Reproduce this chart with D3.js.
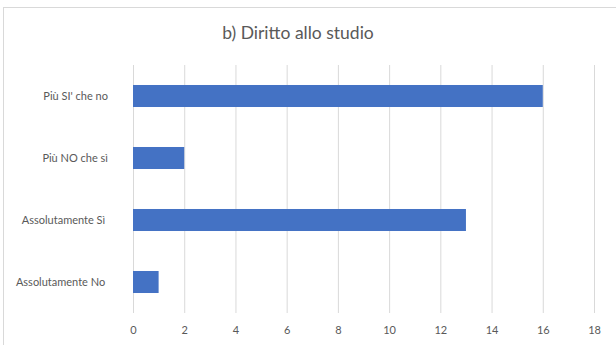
<!DOCTYPE html>
<html><head><meta charset="utf-8">
<script src="https://cdn.jsdelivr.net/npm/d3@7"></script>
<style>body{margin:0;background:#fff}svg{display:block}</style>
</head><body>
<script>
const title = "b) Diritto allo studio";
const categories = ["Più SI' che no","Più NO che sì","Assolutamente Sì ","Assolutamente No "];
const values = [16, 2, 13, 1];
const ticks = [0,2,4,6,8,10,12,14,16,18];

const W=616,H=345;
const svg=d3.select("body").append("svg").attr("width",W).attr("height",H);
svg.append("rect").attr("x",3.5).attr("y",7.5).attr("width",W+10).attr("height",H+10)
  .attr("fill","#fff").attr("stroke","#d9d9d9");
const font="Lato, 'Open Sans', sans-serif";
const x=d3.scaleLinear().domain([0,18]).range([133,594]);
const y=d3.scaleBand().domain(categories).range([65,313]).paddingInner(0.645).paddingOuter(0.3225);
svg.append("g").selectAll("line").data(ticks).join("line")
  .attr("x1",d=>x(d)+0.5).attr("x2",d=>x(d)+0.5).attr("y1",65).attr("y2",313)
  .attr("stroke","#d9d9d9").attr("stroke-width",1);
svg.append("g").selectAll("rect").data(categories).join("rect")
  .attr("x",x(0)).attr("y",d=>y(d)).attr("height",y.bandwidth())
  .attr("width",(d,i)=>x(values[i])-x(0)).attr("fill","#4472C4");
const xa=d3.axisBottom(x).tickValues(ticks).tickSize(0).tickPadding(0);
const gx=svg.append("g").attr("transform","translate(0,330)").call(xa);
gx.select(".domain").remove();
gx.selectAll("text").attr("font-family",font).attr("font-size",11).attr("fill","#595959").attr("dy","0.35em");
const ya=d3.axisLeft(y).tickSize(0).tickPadding(0);
const gy=svg.append("g").attr("transform","translate(108,0)").call(ya);
gy.select(".domain").remove();
gy.selectAll("text").attr("font-family",font).attr("font-size",11).attr("fill","#595959")
  .style("white-space","pre");
svg.append("text").attr("x",298).attr("y",33).attr("text-anchor","middle").attr("dy","0.35em")
  .attr("font-family",font).attr("font-size",17.5).attr("fill","#595959").text(title);
</script>
</body></html>
